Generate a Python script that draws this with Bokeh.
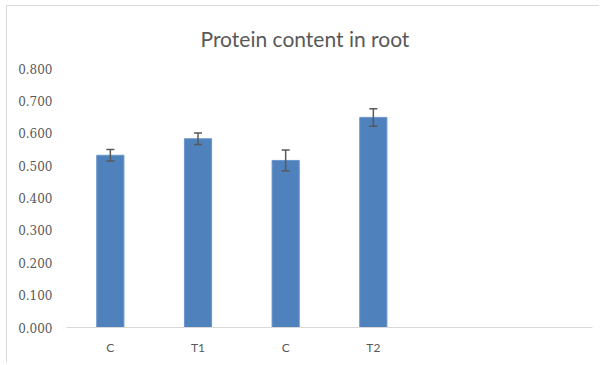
from bokeh.plotting import figure
from bokeh.models import (ColumnDataSource, Whisker, FixedTicker, NumeralTickFormatter,
                          Range1d, TeeHead)
from bokeh.embed import file_html
from bokeh.resources import INLINE

categories = ["C", "T1", "C", "T2"]
values = [0.532, 0.583, 0.516, 0.649]
errors = [0.018, 0.018, 0.032, 0.027]
n_slots = 6
y_ticks = [0.0, 0.1, 0.2, 0.3, 0.4, 0.5, 0.6, 0.7, 0.8]

xs = [i + 0.5 for i in range(len(categories))]
src = ColumnDataSource(dict(
    x=xs, top=values,
    upper=[v + e for v, e in zip(values, errors)],
    lower=[v - e for v, e in zip(values, errors)],
))

p = figure(width=593, height=357, output_backend="svg", toolbar_location=None,
           x_range=Range1d(0, n_slots), y_range=Range1d(0, 0.8),
           min_border_left=59, min_border_right=8, min_border_top=61, min_border_bottom=36,
           title="Protein content in root")
p.margin = (5, 0, 0, 6)
p.styles = {"border-left": "1px solid #d9d9d9", "border-top": "1px solid #d9d9d9"}
p.outline_line_color = None
p.xgrid.visible = False
p.ygrid.visible = False
p.background_fill_color = "white"
p.border_fill_color = "white"

p.title.align = "left"
p.title.offset = 134
p.title.standoff = 35
p.title.text_font = "Lato"
p.title.text_font_style = "normal"
p.title.text_font_size = "21px"
p.title.text_color = "#595959"

p.vbar(x="x", top="top", width=0.31, source=src, fill_color="#4f81bd",
       line_color="#6a96cc", line_width=1)

w = Whisker(base="x", upper="upper", lower="lower", source=src,
            line_color="#595959", line_width=1.5, level="overlay",
            upper_head=TeeHead(size=8, line_color="#595959", line_width=1.5),
            lower_head=TeeHead(size=8, line_color="#595959", line_width=1.5))
p.add_layout(w)

ya = p.yaxis[0]
ya.ticker = FixedTicker(ticks=y_ticks)
ya.formatter = NumeralTickFormatter(format="0.000")
ya.axis_line_color = None
ya.major_tick_line_color = None
ya.minor_tick_line_color = None
ya.major_tick_out = 0
ya.minor_tick_out = 0
ya.major_label_standoff = 14
ya.major_label_text_font = "DejaVu Serif"
ya.major_label_text_font_size = "12px"
ya.major_label_text_color = "#595959"

xa = p.xaxis[0]
xa.ticker = FixedTicker(ticks=xs)
xa.major_label_overrides = {x: c for x, c in zip(xs, categories)}
xa.axis_line_color = "#d9d9d9"
xa.axis_line_width = 1
xa.major_tick_line_color = None
xa.minor_tick_line_color = None
xa.major_tick_out = 0
xa.minor_tick_out = 0
xa.major_label_standoff = 12
xa.major_label_text_font = "Lato"
xa.major_label_text_font_size = "12px"
xa.major_label_text_color = "#595959"

open("out.html", "w").write(file_html(p, INLINE))
